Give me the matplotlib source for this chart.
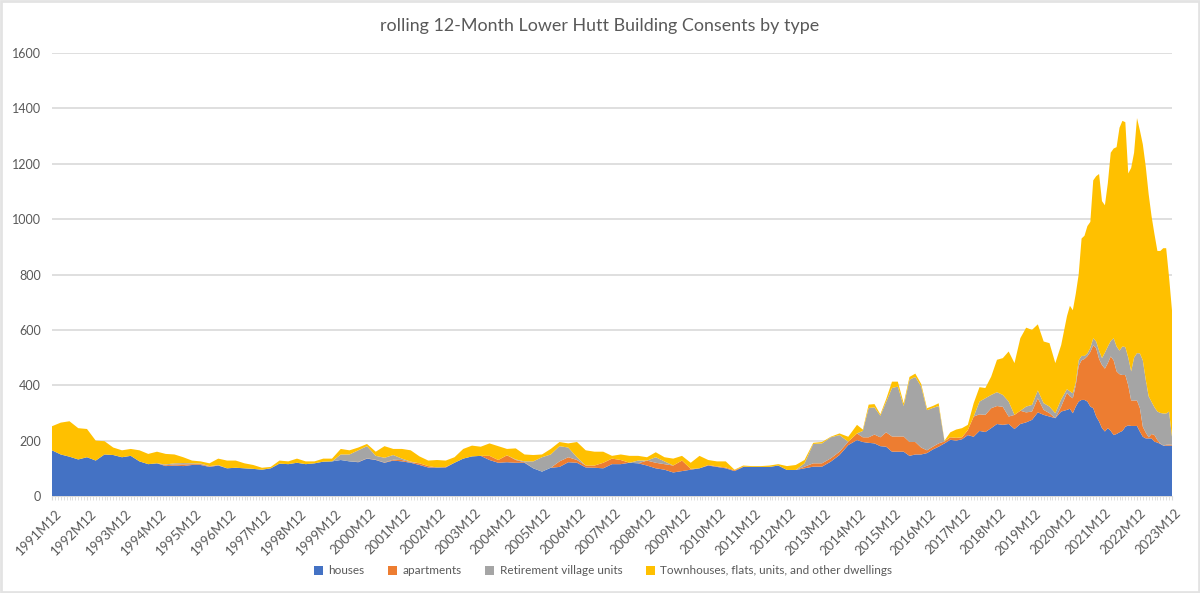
import matplotlib
matplotlib.use("Agg")
import matplotlib.pyplot as plt
from matplotlib.patches import Rectangle
from matplotlib.transforms import ScaledTranslation

plt.rcParams['font.family'] = ['Lato', 'DejaVu Sans']

title = "rolling 12-Month Lower Hutt Building Consents by type"
series_names = ["houses", "apartments", "Retirement village units", "Townhouses, flats, units, and other dwellings"]
series_colors = ["#4472C4", "#ED7D31", "#A5A5A5", "#FFC000"]

# Sampled periods: quarterly to 2014M12, every two months to 2020M10, then monthly
periods = ["1991M12"]
periods += [f"{y}M{m:02d}" for y in range(1992, 2015) for m in (3, 6, 9, 12)]
periods += [f"{y}M{m:02d}" for y in range(2015, 2021) for m in (2, 4, 6, 8, 10, 12)][:-1]
periods += ["2020M12"] + [f"{y}M{m:02d}" for y in range(2021, 2024) for m in range(1, 13)]

houses = [165,
    150,142,132,140, 128,150,148,140, 145,125,115,118, 108,110,108,112, 112,105,110,100,
    102,100,98,95, 100,117,115,120, 115,118,124,125, 130,125,122,135, 130,120,128,125,
    120,112,103,103, 103,120,135,143, 145,130,120,122, 120,120,100,88, 102,105,122,120,
    103,102,100,115, 115,120,118,110, 100,95,85,90, 95,100,110,105, 100,90,105,105,
    105,105,110,94, 94,100,106,106, 124,148,184,202,
    195,192,190,180,178,160, 160,160,145,150,150,155, 168,178,190,203,200,205,
    220,214,235,231,245,260, 257,260,242,260,266,275, 302,293,287,281,305,
    311, 315,299,323,341,347,347,341,323,317,287,269,245,
    233,245,235,220,224,230,235,250,255,253,253,253,
    232,214,208,208,208,196,193,188,182,182,182,182]
apartments = [0,
    0,0,0,0, 0,0,0,0, 0,0,0,0, 3,4,6,3, 3,2,1,0,
    0,0,0,0, 0,0,0,0, 0,0,0,0, 0,0,1,1, 1,1,3,5,
    2,6,5,0, 2,0,0,0, 0,15,10,25, 10,2,0,0, 0,20,18,10,
    7,8,20,20, 15,0,0,18, 20,20,25,38, 3,0,2,2, 3,3,1,0,
    0,0,0,0, 0,6,12,12, 12,12,12,24,
    17,20,32,32,52,55, 55,55,50,45,25,10, 10,12,7,9,10,7,
    18,73,60,62,72,65, 65,27,51,48,36,30, 51,18,12,0,18,
    62, 45,54,77,129,143,148,164,197,228,247,226,228,
    227,235,269,270,226,210,202,187,145,92,92,92,
    85,36,21,4,16,24,9,2,0,3,4,3]
retirement = [0,
    0,0,0,0, 0,0,0,0, 0,0,0,0, 3,4,5,3, 2,1,1,0,
    0,0,0,0, 0,0,0,0, 0,0,0,0, 20,25,42,44, 14,17,17,5,
    2,0,0,0, 0,0,0,0, 0,0,0,0, 2,3,25,52, 48,55,35,10,
    0,0,0,0, 0,0,10,0, 20,10,0,0, 0,0,0,0, 0,0,0,0,
    0,0,0,0, 0,12,70,72, 76,60,0,0,
    23,106,98,78,110,175, 180,110,225,235,220,145, 140,135,1,0,0,0,
    0,0,46,60,48,50, 43,54,0,0,21,24, 28,24,24,18,26,
    13, 18,18,10,20,16,11,10,15,25,24,30,25,
    58,60,56,80,90,85,103,101,100,105,155,171,
    198,240,191,148,116,100,103,110,116,113,119,29]
townhouses = [87,
    115,128,113,102, 72,48,27,25, 25,40,37,42, 38,32,21,10, 8,10,23,28,
    26,18,14,7, 5,11,10,15, 10,7,11,10, 20,15,10,8, 15,42,22,35,
    41,25,20,27, 23,20,35,39, 33,45,50,23, 40,25,23,10, 20,15,15,55,
    55,50,40,10, 20,25,17,12, 18,15,25,17, 22,45,18,18, 22,2,4,3,
    3,5,5,14, 18,12,4,5, 2,6,18,31,
    5,12,12,5,10,23, 18,10,10,12,10,7, 7,10,2,18,30,33,
    19,48,52,37,66,117, 133,181,187,262,285,271, 239,223,229,181,196,
    264, 309,300,320,310,424,434,460,455,570,597,638,567,
    532,590,680,685,720,805,815,812,665,735,740,849,
    805,780,770,730,670,625,580,585,597,597,485,456]

y_ticks = [0, 200, 400, 600, 800, 1000, 1200, 1400, 1600]


def month_index(p):
    return (int(p[:4]) - 1991) * 12 + int(p[5:]) - 12


x = [month_index(p) for p in periods]
last = month_index("2023M12")

fig = plt.figure(figsize=(12, 5.93), dpi=100)
ax = fig.add_axes([52 / 1200, 1 - 496 / 593, 1120 / 1200, 443 / 593])

stacks = ax.stackplot(x, houses, apartments, retirement, townhouses,
                      colors=series_colors, labels=series_names, linewidth=0, zorder=3)

ax.set_xlim(0, last)
ax.set_ylim(0, 1600)
ax.set_yticks(y_ticks)
ax.tick_params(axis='y', length=0, labelsize=9, labelcolor="#595959", pad=8)
ax.grid(axis='y', color="#D9D9D9", linewidth=1.2, zorder=0)
ax.set_axisbelow(True)
for s in ("top", "right", "left"):
    ax.spines[s].set_visible(False)
ax.spines["bottom"].set_color("#D9D9D9")

year_ticks = list(range(0, last + 1, 12))
year_labels = [f"{1991 + i}M12" for i in range(len(year_ticks))]
ax.set_xticks(year_ticks)
ax.set_xticklabels(year_labels, rotation=45, ha="right", rotation_mode="anchor")
ax.set_xticks(list(range(0, last + 1)), minor=True)
ax.tick_params(axis='x', which='major', length=3, color="#D9D9D9", labelsize=9.5,
               labelcolor="#595959", pad=5)
ax.tick_params(axis='x', which='minor', length=3, width=0.6, color="#D9D9D9")
shift = ScaledTranslation(3 / 100, 0, fig.dpi_scale_trans)
for lab in ax.get_xticklabels():
    lab.set_transform(lab.get_transform() + shift)

fig.text(600 / 1200, 1 - 26 / 593, title, ha="center", va="center", fontsize=12.9, color="#595959")

fig.legend(stacks, series_names, loc="center", bbox_to_anchor=(603 / 1200, 1 - 571 / 593), ncol=4,
           frameon=False, fontsize=8.45, labelcolor="#595959", handlelength=0.8, handleheight=0.8,
           handletextpad=0.45, columnspacing=2.0)

fig.add_artist(Rectangle((0.001, 0.002), 0.998, 0.996, transform=fig.transFigure, fill=False,
                         edgecolor="#E3E3E3", linewidth=2))

fig.savefig("out.png", dpi=100)
